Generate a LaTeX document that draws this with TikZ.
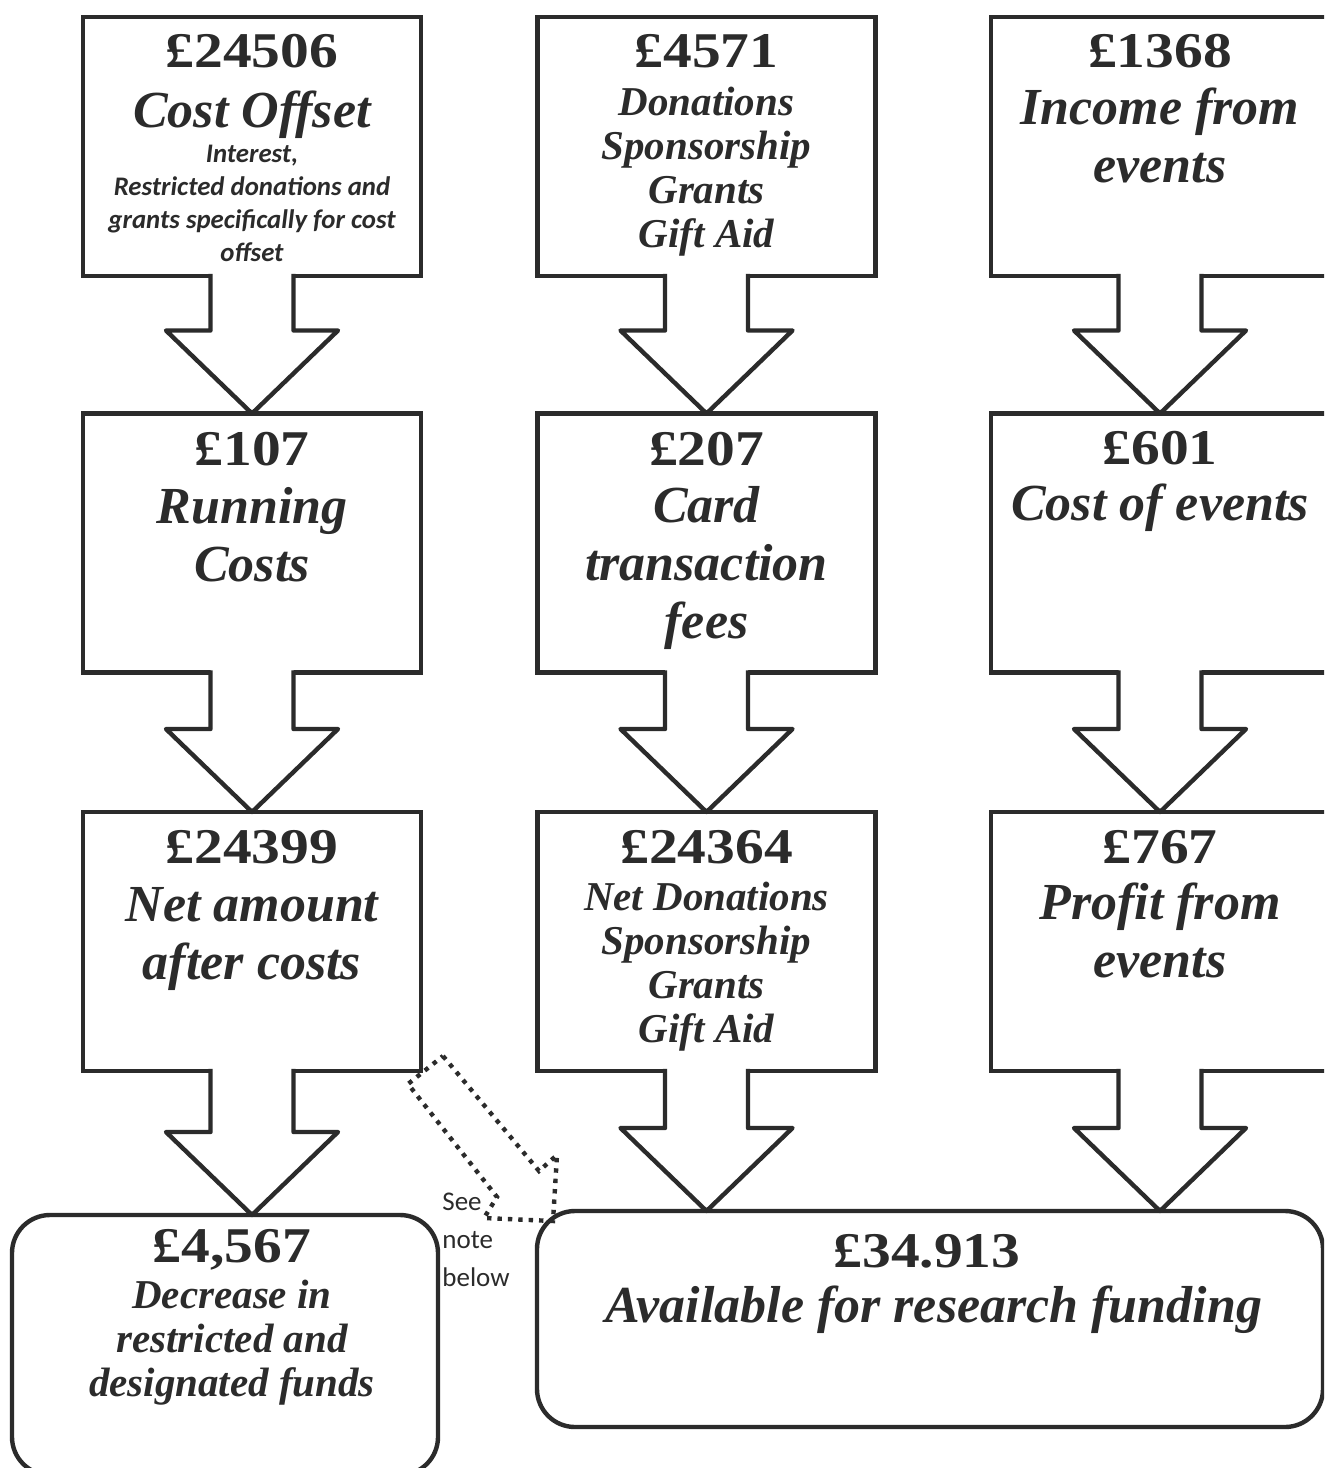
\documentclass[tikz,border=0pt]{standalone}
\usepackage{fontspec}
\setmainfont{Liberation Serif}
\newfontfamily\numfont[FakeStretch=1.15]{Liberation Serif}
\newfontfamily\notefont{Carlito}
\usetikzlibrary{calc}
\definecolor{ink}{HTML}{2B2B2B}
\tikzset{
  box/.style={draw=ink, line width=2.2pt, outer sep=0pt, inner sep=0pt, minimum width=169pt, minimum height=129.5pt},
  roundbox/.style={box, rounded corners=19pt},
  flow/.style={draw=ink, line width=2.2pt, line join=round},
  noteline/.style={draw=ink, line width=2.2pt, dash pattern=on 2.2pt off 3pt},
  value/.style={anchor=base, inner sep=0pt, text=ink, font=\numfont\bfseries\fontsize{25}{29}\selectfont},
  bigtext/.style={anchor=base, align=center, inner sep=0pt, text=ink, font=\bfseries\itshape\fontsize{26}{29}\selectfont},
  medtext/.style={anchor=base, align=center, inner sep=0pt, text=ink, font=\bfseries\itshape\fontsize{20.5}{22}\selectfont},
  smalltext/.style={anchor=base, align=center, inner sep=0pt, text=ink, font=\notefont\bfseries\itshape\fontsize{13.4}{16.5}\selectfont},
  notetext/.style={anchor=base west, align=left, inner sep=0pt, text=ink, font=\notefont\fontsize{13.5}{19}\selectfont}
}
\begin{document}
\begin{tikzpicture}[x=0.5pt,y=-0.5pt]
\useasboundingbox (0,0) rectangle (1324,1468);
\clip (0,0) rectangle (1324,1468);
% boxes
\node[box] (b11) at (252,146.5) {};
\node[box] (b12) at (706.5,146.5) {};
\node[box] (b13) at (1160,146.5) {};
\node[box] (b21) at (252,543) {};
\node[box] (b22) at (706.5,543) {};
\node[box] (b23) at (1160,543) {};
\node[box] (b31) at (252,941.5) {};
\node[box] (b32) at (706.5,941.5) {};
\node[box] (b33) at (1160,941.5) {};
\node[roundbox, minimum width=213pt, minimum height=130pt] (b41) at (225,1345) {};
\node[roundbox, minimum width=393pt, minimum height=108pt] (b42) at (930,1319) {};
% block arrows
\foreach \a/\b in {b11/b21,b21/b31,b31/b41,b12/b22,b22/b32,b32/b42,b13/b23,b23/b33,b33/b42}{
  \coordinate (tip) at (\a.south |- \b.north);
  \fill[white] ($(\a.south)+(-41.5,-3)$) -- ($(tip)+(-41.5,-83)$) -- ($(tip)+(-86,-83)$) -- (tip)
    -- ($(tip)+(86,-83)$) -- ($(tip)+(41.5,-83)$) -- ($(\a.south)+(41.5,-3)$) -- cycle;
  \draw[flow] ($(\a.south)+(-41.5,-2.2)$) -- ($(tip)+(-41.5,-83)$) -- ($(tip)+(-86,-83)$) -- (tip)
    -- ($(tip)+(86,-83)$) -- ($(tip)+(41.5,-83)$) -- ($(\a.south)+(41.5,-2.2)$);
}
% dotted arrow to the note
\draw[noteline] (443,1056) -- (539,1171) -- (557,1155) -- (553,1221) -- (484,1218) -- (497,1197) -- (408,1084) -- cycle;
\node[notetext] (note) at (442,1286) {See\\note\\below};
% texts (multi-line nodes sit on the baseline of their last line)
\node[value] (v11) at (252,67) {£24506};
\node[bigtext] (d11) at (252,127) {Cost Offset};
\node[smalltext] (s11) at (252,261) {Interest,\\Restricted donations and\\grants specifically for cost\\offset};
\node[value] (v12) at (706.5,67) {£4571};
\node[medtext] (d12) at (706.5,247) {Donations\\Sponsorship\\Grants\\Gift Aid};
\node[value] (v13) at (1160,67) {£1368};
\node[bigtext] (d13) at (1160,182) {Income from\\events};
\node[value] (v21) at (252,465) {£107};
\node[bigtext] (d21) at (252,581) {Running\\Costs};
\node[value] (v22) at (706.5,465) {£207};
\node[bigtext] (d22) at (706.5,638) {Card\\transaction\\fees};
\node[value] (v23) at (1160,464) {£601};
\node[bigtext] (d23) at (1160,520) {Cost of events};
\node[value] (v31) at (252,863) {£24399};
\node[bigtext] (d31) at (252,979) {Net amount\\after costs};
\node[value] (v32) at (706.5,863) {£24364};
\node[medtext] (d32) at (706.5,1042) {Net Donations\\Sponsorship\\Grants\\Gift Aid};
\node[value] (v33) at (1160,863) {£767};
\node[bigtext] (d33) at (1160,977) {Profit from\\events};
\node[value] (v41) at (232,1262) {£4,567};
\node[medtext] (d41) at (232,1396) {Decrease in\\restricted and\\designated funds};
\node[value] (v42) at (927,1267) {£34.913};
\node[bigtext] (d42) at (934,1322) {Available for research funding};
\end{tikzpicture}
\end{document}
